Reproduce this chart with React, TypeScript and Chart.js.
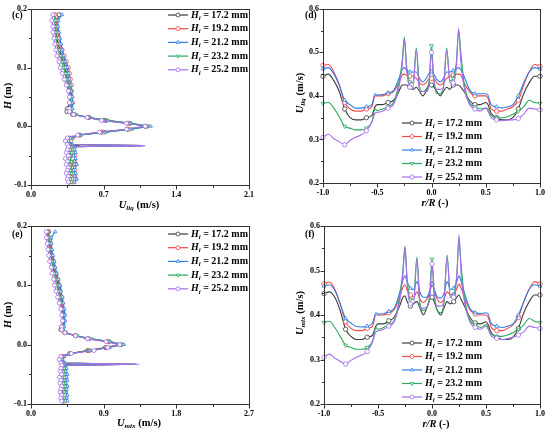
import React, { useEffect, useRef } from "react";
import { Chart, registerables } from "chart.js";
Chart.register(...registerables);

// ---------- data ----------
const SERIES_LABELS = ["17.2", "19.2", "21.2", "23.2", "25.2"];

// vertical profiles (panels c, e): height H (m)
const H_POS = [0.19, 0.18, 0.17, 0.16, 0.15, 0.14, 0.13, 0.12, 0.11, 0.10, 0.09, 0.08, 0.07, 0.06, 0.05, 0.04, 0.03, 0.025, 0.02, 0.015, 0.01, 0.005, 0, -0.005, -0.01, -0.015, -0.02, -0.025, -0.031, -0.033, -0.035, -0.04, -0.045, -0.05, -0.055, -0.06, -0.065, -0.07, -0.075, -0.08, -0.085, -0.09, -0.095];
const H_SPIKE = -0.033;

const ULIQ_172 = [0.27, 0.25, 0.24, 0.24, 0.25, 0.26, 0.28, 0.29, 0.31, 0.33, 0.34, 0.35, 0.36, 0.37, 0.38, 0.375, 0.35, 0.345, 0.40, 0.56, 0.72, 0.95, 1.10, 0.93, 0.68, 0.47, 0.37, 0.34, 0.36, 0.45, 0.37, 0.37, 0.36, 0.38, 0.36, 0.37, 0.38, 0.37, 0.36, 0.37, 0.38, 0.36, 0.37];
const ULIQ_192 = [0.23, 0.24, 0.25, 0.26, 0.27, 0.28, 0.30, 0.32, 0.34, 0.36, 0.37, 0.38, 0.39, 0.39, 0.39, 0.40, 0.38, 0.37, 0.42, 0.55, 0.70, 0.93, 1.12, 0.94, 0.70, 0.46, 0.40, 0.38, 0.39, 1.06, 0.40, 0.41, 0.40, 0.42, 0.41, 0.42, 0.43, 0.41, 0.42, 0.40, 0.42, 0.43, 0.41];
const ULIQ_212 = [0.30, 0.26, 0.26, 0.27, 0.28, 0.29, 0.30, 0.31, 0.33, 0.35, 0.36, 0.37, 0.38, 0.39, 0.40, 0.40, 0.40, 0.39, 0.42, 0.54, 0.70, 0.96, 1.15, 0.97, 0.72, 0.48, 0.39, 0.36, 0.40, 1.08, 0.42, 0.42, 0.43, 0.41, 0.43, 0.42, 0.44, 0.42, 0.41, 0.43, 0.42, 0.44, 0.42];
const ULIQ_232 = [0.22, 0.23, 0.23, 0.24, 0.24, 0.25, 0.26, 0.28, 0.30, 0.31, 0.33, 0.34, 0.36, 0.37, 0.38, 0.38, 0.38, 0.38, 0.43, 0.56, 0.74, 0.96, 1.12, 0.95, 0.71, 0.47, 0.38, 0.36, 0.37, 1.08, 0.39, 0.38, 0.39, 0.38, 0.37, 0.39, 0.38, 0.40, 0.38, 0.39, 0.37, 0.38, 0.39];
const ULIQ_252 = [0.21, 0.20, 0.21, 0.21, 0.22, 0.23, 0.24, 0.25, 0.27, 0.28, 0.30, 0.32, 0.34, 0.36, 0.37, 0.37, 0.37, 0.37, 0.41, 0.54, 0.68, 0.92, 1.10, 0.92, 0.66, 0.45, 0.35, 0.33, 0.35, 1.10, 0.36, 0.35, 0.34, 0.36, 0.33, 0.35, 0.34, 0.36, 0.35, 0.34, 0.36, 0.35, 0.36];

const UMIX_172 = [0.22, 0.22, 0.23, 0.24, 0.25, 0.27, 0.28, 0.30, 0.32, 0.34, 0.35, 0.37, 0.38, 0.39, 0.40, 0.40, 0.38, 0.37, 0.42, 0.55, 0.70, 0.95, 1.10, 0.92, 0.70, 0.48, 0.38, 0.36, 0.38, 0.50, 0.39, 0.40, 0.41, 0.39, 0.40, 0.41, 0.40, 0.42, 0.40, 0.41, 0.40, 0.41, 0.40];
const UMIX_192 = [0.21, 0.22, 0.24, 0.25, 0.26, 0.28, 0.29, 0.31, 0.33, 0.35, 0.36, 0.38, 0.39, 0.40, 0.41, 0.41, 0.39, 0.38, 0.42, 0.55, 0.71, 0.96, 1.12, 0.94, 0.72, 0.48, 0.40, 0.38, 0.40, 1.28, 0.41, 0.42, 0.41, 0.43, 0.42, 0.43, 0.42, 0.44, 0.42, 0.43, 0.42, 0.43, 0.42];
const UMIX_212 = [0.30, 0.25, 0.25, 0.26, 0.27, 0.29, 0.30, 0.32, 0.34, 0.36, 0.37, 0.39, 0.40, 0.41, 0.42, 0.42, 0.41, 0.40, 0.43, 0.55, 0.72, 0.98, 1.15, 0.97, 0.74, 0.50, 0.41, 0.39, 0.42, 1.30, 0.43, 0.44, 0.43, 0.45, 0.44, 0.45, 0.43, 0.45, 0.44, 0.43, 0.45, 0.44, 0.45];
const UMIX_232 = [0.20, 0.21, 0.22, 0.23, 0.24, 0.26, 0.27, 0.29, 0.30, 0.32, 0.34, 0.35, 0.37, 0.38, 0.39, 0.40, 0.39, 0.39, 0.43, 0.57, 0.74, 0.97, 1.12, 0.95, 0.73, 0.49, 0.39, 0.37, 0.39, 1.30, 0.40, 0.41, 0.40, 0.41, 0.39, 0.41, 0.40, 0.42, 0.40, 0.41, 0.39, 0.41, 0.40];
const UMIX_252 = [0.19, 0.19, 0.20, 0.21, 0.22, 0.23, 0.25, 0.26, 0.28, 0.29, 0.31, 0.33, 0.35, 0.37, 0.38, 0.39, 0.38, 0.38, 0.42, 0.55, 0.70, 0.93, 1.10, 0.95, 0.78, 0.50, 0.37, 0.35, 0.37, 1.34, 0.38, 0.37, 0.36, 0.38, 0.35, 0.37, 0.36, 0.38, 0.37, 0.36, 0.38, 0.37, 0.38];

// radial profiles (panels d, f): r/R
const R_POS = [-1.0, -0.95, -0.9, -0.85, -0.8, -0.75, -0.7, -0.65, -0.6, -0.55, -0.52, -0.5, -0.45, -0.4, -0.35, -0.3, -0.27, -0.25, -0.23, -0.2, -0.17, -0.14, -0.11, -0.08, -0.05, -0.02, 0, 0.02, 0.05, 0.08, 0.11, 0.14, 0.17, 0.2, 0.23, 0.25, 0.27, 0.3, 0.35, 0.4, 0.45, 0.5, 0.52, 0.55, 0.6, 0.65, 0.7, 0.75, 0.8, 0.85, 0.9, 0.95, 1.0];
const R_MARKED = [-1.0, -0.8, -0.6, -0.4, -0.2, 0, 0.2, 0.4, 0.6, 0.8, 1.0];

const RLIQ_172 = [0.445, 0.45, 0.435, 0.41, 0.37, 0.35, 0.345, 0.345, 0.35, 0.355, 0.375, 0.38, 0.38, 0.385, 0.39, 0.41, 0.425, 0.425, 0.425, 0.42, 0.415, 0.42, 0.41, 0.40, 0.41, 0.425, 0.425, 0.42, 0.41, 0.40, 0.41, 0.42, 0.415, 0.425, 0.425, 0.425, 0.42, 0.41, 0.39, 0.38, 0.38, 0.385, 0.38, 0.36, 0.35, 0.345, 0.345, 0.35, 0.37, 0.405, 0.43, 0.445, 0.445];
const RLIQ_192 = [0.47, 0.472, 0.455, 0.425, 0.385, 0.37, 0.365, 0.365, 0.37, 0.375, 0.40, 0.40, 0.40, 0.405, 0.41, 0.43, 0.448, 0.45, 0.448, 0.445, 0.445, 0.44, 0.43, 0.425, 0.43, 0.44, 0.44, 0.44, 0.43, 0.425, 0.43, 0.44, 0.445, 0.448, 0.45, 0.45, 0.448, 0.43, 0.41, 0.40, 0.40, 0.40, 0.395, 0.37, 0.365, 0.365, 0.37, 0.375, 0.39, 0.425, 0.455, 0.472, 0.468];
const RLIQ_212 = [0.462, 0.465, 0.45, 0.425, 0.39, 0.38, 0.372, 0.372, 0.375, 0.38, 0.405, 0.402, 0.403, 0.407, 0.412, 0.44, 0.46, 0.465, 0.46, 0.455, 0.455, 0.455, 0.44, 0.432, 0.44, 0.452, 0.455, 0.45, 0.438, 0.432, 0.44, 0.455, 0.455, 0.458, 0.462, 0.465, 0.46, 0.445, 0.415, 0.405, 0.405, 0.405, 0.402, 0.38, 0.375, 0.372, 0.375, 0.38, 0.40, 0.43, 0.455, 0.465, 0.462];
const RLIQ_232 = [0.383, 0.385, 0.372, 0.352, 0.33, 0.326, 0.322, 0.322, 0.326, 0.34, 0.37, 0.366, 0.37, 0.375, 0.385, 0.43, 0.48, 0.535, 0.47, 0.432, 0.43, 0.51, 0.42, 0.41, 0.415, 0.44, 0.515, 0.44, 0.405, 0.405, 0.42, 0.51, 0.435, 0.44, 0.48, 0.55, 0.50, 0.43, 0.385, 0.375, 0.37, 0.372, 0.37, 0.355, 0.35, 0.35, 0.352, 0.358, 0.365, 0.375, 0.39, 0.385, 0.383];
const RLIQ_252 = [0.305, 0.312, 0.302, 0.295, 0.288, 0.298, 0.305, 0.31, 0.32, 0.34, 0.36, 0.362, 0.365, 0.372, 0.38, 0.42, 0.47, 0.53, 0.46, 0.42, 0.418, 0.505, 0.41, 0.41, 0.41, 0.43, 0.50, 0.44, 0.415, 0.415, 0.42, 0.505, 0.43, 0.43, 0.47, 0.555, 0.48, 0.42, 0.38, 0.37, 0.365, 0.372, 0.365, 0.35, 0.345, 0.343, 0.345, 0.345, 0.348, 0.358, 0.372, 0.37, 0.368];

const RMIX_172 = [0.448, 0.452, 0.44, 0.41, 0.368, 0.352, 0.345, 0.345, 0.35, 0.355, 0.375, 0.38, 0.38, 0.387, 0.395, 0.42, 0.44, 0.443, 0.43, 0.42, 0.425, 0.43, 0.415, 0.40, 0.415, 0.435, 0.44, 0.43, 0.41, 0.40, 0.415, 0.43, 0.425, 0.43, 0.44, 0.445, 0.435, 0.42, 0.395, 0.382, 0.38, 0.385, 0.378, 0.36, 0.35, 0.345, 0.345, 0.35, 0.37, 0.405, 0.43, 0.445, 0.445];
const RMIX_192 = [0.47, 0.474, 0.458, 0.425, 0.385, 0.37, 0.365, 0.365, 0.37, 0.375, 0.40, 0.40, 0.40, 0.405, 0.412, 0.44, 0.462, 0.468, 0.455, 0.445, 0.44, 0.452, 0.435, 0.428, 0.435, 0.45, 0.47, 0.455, 0.435, 0.428, 0.435, 0.452, 0.445, 0.445, 0.46, 0.47, 0.46, 0.44, 0.412, 0.402, 0.40, 0.40, 0.395, 0.372, 0.365, 0.365, 0.37, 0.378, 0.395, 0.43, 0.458, 0.475, 0.47];
const RMIX_212 = [0.465, 0.468, 0.455, 0.425, 0.392, 0.382, 0.374, 0.373, 0.375, 0.382, 0.405, 0.402, 0.403, 0.408, 0.415, 0.45, 0.478, 0.488, 0.475, 0.46, 0.458, 0.475, 0.45, 0.44, 0.44, 0.455, 0.47, 0.458, 0.44, 0.438, 0.448, 0.475, 0.458, 0.46, 0.475, 0.488, 0.475, 0.45, 0.415, 0.405, 0.403, 0.405, 0.402, 0.38, 0.375, 0.372, 0.375, 0.38, 0.40, 0.43, 0.458, 0.468, 0.465];
const RMIX_232 = [0.383, 0.386, 0.372, 0.352, 0.332, 0.327, 0.323, 0.323, 0.327, 0.342, 0.372, 0.368, 0.372, 0.378, 0.388, 0.44, 0.50, 0.555, 0.48, 0.435, 0.435, 0.53, 0.425, 0.41, 0.415, 0.45, 0.525, 0.445, 0.41, 0.405, 0.425, 0.535, 0.44, 0.445, 0.49, 0.57, 0.51, 0.44, 0.39, 0.378, 0.372, 0.378, 0.372, 0.357, 0.352, 0.352, 0.355, 0.36, 0.368, 0.378, 0.392, 0.386, 0.383];
const RMIX_252 = [0.305, 0.312, 0.303, 0.296, 0.29, 0.298, 0.305, 0.31, 0.318, 0.34, 0.362, 0.364, 0.368, 0.375, 0.385, 0.43, 0.49, 0.55, 0.47, 0.425, 0.425, 0.525, 0.415, 0.415, 0.418, 0.44, 0.515, 0.45, 0.42, 0.42, 0.43, 0.53, 0.44, 0.44, 0.49, 0.58, 0.49, 0.43, 0.385, 0.372, 0.368, 0.375, 0.368, 0.352, 0.348, 0.345, 0.347, 0.35, 0.355, 0.362, 0.375, 0.372, 0.37];

// tick labels
const C_XTICKS = [0, 0.7, 1.4, 2.1];
const E_XTICKS = [0, 0.9, 1.8, 2.7];
const H_TICKS = [-0.1, 0, 0.1, 0.2];
const R_TICKS = [-1, -0.5, 0, 0.5, 1];
const V_TICKS = [0.2, 0.3, 0.4, 0.5, 0.6];

// ---------- style ----------
const COLORS = ["#3d3d3d", "#f04848", "#2f7fe6", "#2aa95c", "#a86df0"];
const MARKERS = ["circle", "circle", "triangle", "triangle", "circle"];
const MARKER_ROT = [0, 0, 0, 180, 0];
const AXIS = "#333333";
const FONT = "'Liberation Serif', 'Times New Roman', serif";
const CW = 275;
const CH = 217;

type Seg = { t: string; i?: boolean; sub?: boolean };

const U_LIQ: Seg[] = [{ t: "U", i: true }, { t: "liq", i: true, sub: true }, { t: " (m/s)" }];
const U_MIX: Seg[] = [{ t: "U", i: true }, { t: "mix", i: true, sub: true }, { t: " (m/s)" }];
const H_T: Seg[] = [{ t: "H", i: true }, { t: " (m)" }];
const R_T: Seg[] = [{ t: "r/R", i: true }, { t: " (-)" }];

interface PanelCfg {
  id: string;
  left: number;
  top: number;
  area: { l: number; r: number; t: number; b: number };
  profile: boolean;
  xMin: number; xMax: number; xTicks: number[];
  yMin: number; yMax: number; yTicks: number[];
  series: number[][];
  tag: string; tagPos: [number, number];
  xTitle: Seg[]; xTitlePos: [number, number];
  yTitle: Seg[]; yTitlePos: [number, number];
  legend: [number, number, number];
}

const PANELS: PanelCfg[] = [
  {
    id: "c", left: 0, top: 0, area: { l: 31, r: 249, t: 6, b: 185 }, profile: true,
    xMin: 0, xMax: 2.1, xTicks: C_XTICKS, yMin: -0.1, yMax: 0.2, yTicks: H_TICKS,
    series: [ULIQ_172, ULIQ_192, ULIQ_212, ULIQ_232, ULIQ_252],
    tag: "(c)", tagPos: [12, 16], xTitle: U_LIQ, xTitlePos: [139, 205], yTitle: H_T, yTitlePos: [8, 96],
    legend: [168, 15, 13.7],
  },
  {
    id: "d", left: 275, top: 0, area: { l: 48, r: 266, t: 6, b: 183 }, profile: false,
    xMin: -1, xMax: 1, xTicks: R_TICKS, yMin: 0.2, yMax: 0.6, yTicks: V_TICKS,
    series: [RLIQ_172, RLIQ_192, RLIQ_212, RLIQ_232, RLIQ_252],
    tag: "(d)", tagPos: [30, 16], xTitle: R_T, xTitlePos: [160, 203], yTitle: U_LIQ, yTitlePos: [25, 93],
    legend: [127, 123, 13.5],
  },
  {
    id: "e", left: 0, top: 217, area: { l: 31, r: 249, t: 6, b: 187 }, profile: true,
    xMin: 0, xMax: 2.7, xTicks: E_XTICKS, yMin: -0.1, yMax: 0.2, yTicks: H_TICKS,
    series: [UMIX_172, UMIX_192, UMIX_212, UMIX_232, UMIX_252],
    tag: "(e)", tagPos: [12, 18], xTitle: U_MIX, xTitlePos: [139, 206], yTitle: H_T, yTitlePos: [8, 98],
    legend: [168, 17, 13.7],
  },
  {
    id: "f", left: 275, top: 217, area: { l: 49, r: 266, t: 9, b: 187 }, profile: false,
    xMin: -1, xMax: 1, xTicks: R_TICKS, yMin: 0.2, yMax: 0.6, yTicks: V_TICKS,
    series: [RMIX_172, RMIX_192, RMIX_212, RMIX_232, RMIX_252],
    tag: "(f)", tagPos: [30, 18], xTitle: R_T, xTitlePos: [161, 207], yTitle: U_MIX, yTitlePos: [25, 96],
    legend: [127, 126, 13.5],
  },
];

// ---------- drawing helpers ----------
function segFont(s: Seg, fs: number) {
  const size = s.sub ? fs * 0.68 : fs;
  return `${s.i ? "italic " : ""}bold ${size}px ${FONT}`;
}

function drawRich(ctx: CanvasRenderingContext2D, segs: Seg[], x: number, y: number, fs: number, align: "center" | "left", rotate = false) {
  ctx.save();
  ctx.translate(x, y);
  if (rotate) ctx.rotate(-Math.PI / 2);
  let w = 0;
  for (const s of segs) {
    ctx.font = segFont(s, fs);
    w += ctx.measureText(s.t).width;
  }
  let cx = align === "center" ? -w / 2 : 0;
  ctx.textBaseline = "middle";
  ctx.textAlign = "left";
  ctx.fillStyle = "#000";
  for (const s of segs) {
    ctx.font = segFont(s, fs);
    ctx.fillText(s.t, cx, s.sub ? fs * 0.3 : 0);
    cx += ctx.measureText(s.t).width;
  }
  ctx.restore();
}

function drawMarker(ctx: CanvasRenderingContext2D, style: string, rot: number, x: number, y: number, r: number, color: string) {
  ctx.save();
  ctx.translate(x, y);
  ctx.beginPath();
  if (style === "circle") {
    ctx.arc(0, 0, r, 0, Math.PI * 2);
  } else {
    let rad = (rot * Math.PI) / 180;
    ctx.moveTo(Math.sin(rad) * r, -Math.cos(rad) * r);
    rad += (2 * Math.PI) / 3;
    ctx.lineTo(Math.sin(rad) * r, -Math.cos(rad) * r);
    rad += (2 * Math.PI) / 3;
    ctx.lineTo(Math.sin(rad) * r, -Math.cos(rad) * r);
    ctx.closePath();
  }
  ctx.fillStyle = "#fff";
  ctx.fill();
  ctx.strokeStyle = color;
  ctx.lineWidth = 0.8;
  ctx.stroke();
  ctx.restore();
}

function decoPlugin(cfg: PanelCfg) {
  return {
    id: "deco" + cfg.id,
    afterDraw(chart: any) {
      const ctx: CanvasRenderingContext2D = chart.ctx;
      const a = chart.chartArea;
      const xs = chart.scales.x;
      const ys = chart.scales.y;
      ctx.save();
      ctx.strokeStyle = AXIS;
      ctx.lineWidth = 1;
      const L = Math.round(a.left) + 0.5;
      const R = Math.round(a.right) + 0.5;
      const T = Math.round(a.top) + 0.5;
      const B = Math.round(a.bottom) + 0.5;
      ctx.strokeRect(L, T, R - L, B - T);
      ctx.beginPath();
      const xt = cfg.xTicks;
      for (let k = 0; k < xt.length; k++) {
        const p = Math.round(xs.getPixelForValue(xt[k])) + 0.5;
        ctx.moveTo(p, B); ctx.lineTo(p, B + 4);
        if (k < xt.length - 1) {
          const m = Math.round(xs.getPixelForValue((xt[k] + xt[k + 1]) / 2)) + 0.5;
          ctx.moveTo(m, B); ctx.lineTo(m, B + 2.5);
        }
      }
      const yt = cfg.yTicks;
      for (let k = 0; k < yt.length; k++) {
        const p = Math.round(ys.getPixelForValue(yt[k])) + 0.5;
        ctx.moveTo(L, p); ctx.lineTo(L - 4, p);
        if (k < yt.length - 1) {
          const m = Math.round(ys.getPixelForValue((yt[k] + yt[k + 1]) / 2)) + 0.5;
          ctx.moveTo(L, m); ctx.lineTo(L - 2.5, m);
        }
      }
      ctx.stroke();

      // panel tag
      ctx.fillStyle = "#000";
      ctx.font = `bold 9.5px ${FONT}`;
      ctx.textBaseline = "middle";
      ctx.textAlign = "left";
      ctx.fillText(cfg.tag, cfg.tagPos[0], cfg.tagPos[1]);

      // axis titles
      drawRich(ctx, cfg.xTitle, cfg.xTitlePos[0], cfg.xTitlePos[1], 10.5, "center");
      drawRich(ctx, cfg.yTitle, cfg.yTitlePos[0], cfg.yTitlePos[1], 10.5, "center", true);

      // legend
      const [lx, ly, dy] = cfg.legend;
      for (let i = 0; i < SERIES_LABELS.length; i++) {
        const y = ly + i * dy;
        ctx.beginPath();
        ctx.strokeStyle = COLORS[i];
        ctx.lineWidth = 1.2;
        ctx.moveTo(lx, y); ctx.lineTo(lx + 20, y);
        ctx.stroke();
        drawMarker(ctx, MARKERS[i], MARKER_ROT[i], lx + 10, y, 2, COLORS[i]);
        drawRich(ctx, [{ t: "H", i: true }, { t: "i", i: true, sub: true }, { t: " = " + SERIES_LABELS[i] + " mm" }], lx + 23, y, 10, "left");
      }
      ctx.restore();
    },
  };
}

function buildConfig(cfg: PanelCfg): any {
  const datasets = cfg.series.map((vals, i) => ({
    label: SERIES_LABELS[i],
    data: cfg.profile
      ? vals.map((u, k) => ({ x: u, y: H_POS[k] }))
      : vals.map((u, k) => ({ x: R_POS[k], y: u })),
    showLine: true,
    borderColor: COLORS[i],
    borderWidth: 1.1,
    pointStyle: MARKERS[i],
    pointRotation: MARKER_ROT[i],
    pointRadius: cfg.profile
      ? (c: any) => (H_POS[c.dataIndex] === H_SPIKE ? 0 : 2)
      : (c: any) => (R_MARKED.includes(R_POS[c.dataIndex]) ? 2.2 : 0),
    pointBorderColor: COLORS[i],
    pointBackgroundColor: "#ffffff",
    pointBorderWidth: 0.8,
    tension: 0,
    cubicInterpolationMode: cfg.profile ? "default" : "monotone",
    order: 4 - i,
    clip: 4,
  }));
  const tickFont = { family: FONT, weight: "bold", size: 8 };
  return {
    type: "scatter",
    data: { datasets },
    plugins: [decoPlugin(cfg)],
    options: {
      animation: false,
      responsive: false,
      maintainAspectRatio: false,
      events: [],
      layout: { padding: { left: 0, right: CW - cfg.area.r, top: cfg.area.t, bottom: 0 } },
      plugins: { legend: { display: false }, tooltip: { enabled: false } },
      scales: {
        x: {
          type: "linear",
          min: cfg.xMin,
          max: cfg.xMax,
          afterBuildTicks: (s: any) => { s.ticks = cfg.xTicks.map((v) => ({ value: v })); },
          afterFit: (s: any) => { s.height = CH - cfg.area.b; },
          grid: { display: false, drawTicks: false },
          border: { display: false },
          ticks: {
            font: tickFont, color: "#000", padding: 5, maxRotation: 0, autoSkip: false,
            callback: (v: any) => Number(v).toFixed(1),
          },
        },
        y: {
          type: "linear",
          min: cfg.yMin,
          max: cfg.yMax,
          afterBuildTicks: (s: any) => { s.ticks = cfg.yTicks.map((v) => ({ value: v })); },
          afterFit: (s: any) => { s.width = cfg.area.l; },
          grid: { display: false, drawTicks: false },
          border: { display: false },
          ticks: {
            font: tickFont, color: "#000", padding: 4, autoSkip: false,
            callback: (v: any) => Number(v).toFixed(1),
          },
        },
      },
    },
  };
}

function Panel({ cfg }: { cfg: PanelCfg }) {
  const ref = useRef<HTMLCanvasElement>(null);
  useEffect(() => {
    if (!ref.current) return;
    const chart = new Chart(ref.current, buildConfig(cfg));
    return () => chart.destroy();
  }, [cfg]);
  return (
    <canvas
      ref={ref}
      width={CW}
      height={CH}
      style={{ position: "absolute", left: cfg.left, top: cfg.top, width: CW, height: CH, display: "block" }}
    />
  );
}

export default function App() {
  return (
    <div style={{ position: "absolute", left: 0, top: 0, width: 550, height: 434, background: "#fff", overflow: "hidden" }}>
      {PANELS.map((p) => (
        <Panel key={p.id} cfg={p} />
      ))}
    </div>
  );
}
